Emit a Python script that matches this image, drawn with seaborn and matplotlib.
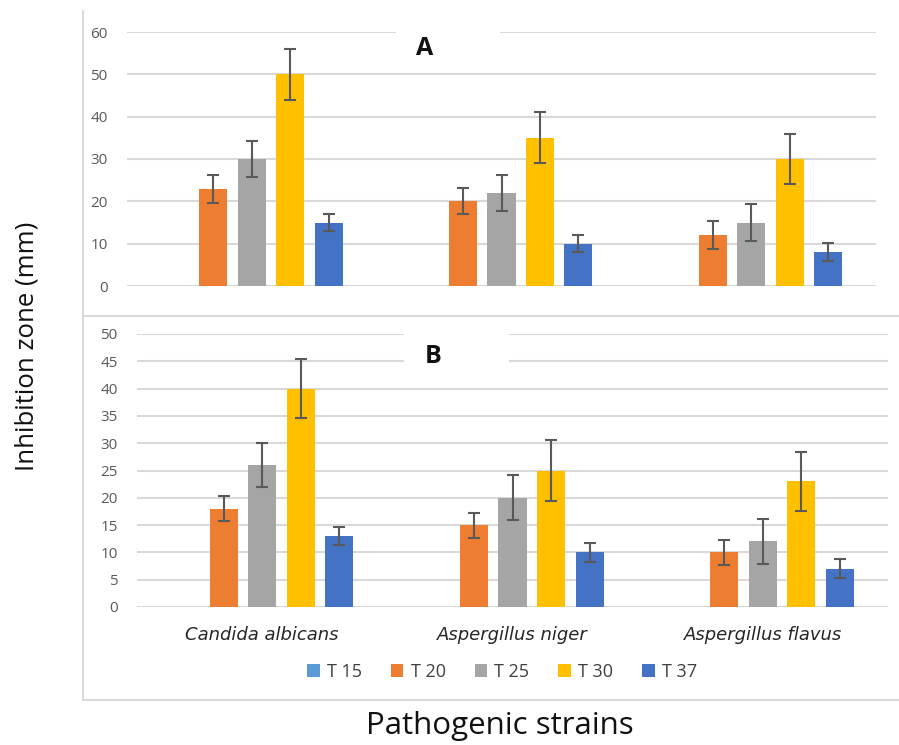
import matplotlib
matplotlib.use("Agg")
import matplotlib.pyplot as plt
from matplotlib.lines import Line2D
from matplotlib.patches import Rectangle
import seaborn as sns
import pandas as pd

# ---------------- data ----------------
strains = ["Candida albicans", "Aspergillus niger", "Aspergillus flavus"]
temps = ["T 15", "T 20", "T 25", "T 30", "T 37"]

# Panel A values (mm) per temperature, ordered as strains
A_T15 = [0, 0, 0]
A_T20 = [23, 20, 12]
A_T25 = [30, 22, 15]
A_T30 = [50, 35, 30]
A_T37 = [15, 10, 8]
# Panel A error bars (+/-)
A_E15 = [0, 0, 0]
A_E20 = [3.3, 3.1, 3.3]
A_E25 = [4.2, 4.3, 4.3]
A_E30 = [6.0, 6.0, 6.0]
A_E37 = [2.1, 2.0, 2.2]

# Panel B values
B_T15 = [0, 0, 0]
B_T20 = [18, 15, 10]
B_T25 = [26, 20, 12]
B_T30 = [40, 25, 23]
B_T37 = [13, 10, 7]
# Panel B error bars
B_E15 = [0, 0, 0]
B_E20 = [2.3, 2.3, 2.3]
B_E25 = [4.1, 4.1, 4.2]
B_E30 = [5.4, 5.5, 5.4]
B_E37 = [1.7, 1.7, 1.7]

A_ticks = [0, 10, 20, 30, 40, 50, 60]
B_ticks = [0, 5, 10, 15, 20, 25, 30, 35, 40, 45, 50]

palette = {"T 15": "#5B9BD5", "T 20": "#ED7D31", "T 25": "#A5A5A5",
           "T 30": "#FFC000", "T 37": "#4472C4"}


def long_df(vals):
    rows = []
    for t, v in zip(temps, vals):
        for s, x in zip(strains, v):
            rows.append({"strain": s, "temp": t, "value": x})
    return pd.DataFrame(rows)


dfA = long_df([A_T15, A_T20, A_T25, A_T30, A_T37])
dfB = long_df([B_T15, B_T20, B_T25, B_T30, B_T37])
errA = [A_E15, A_E20, A_E25, A_E30, A_E37]
errB = [B_E15, B_E20, B_E25, B_E30, B_E37]

# ---------------- style ----------------
sns.set_theme(style="white")
plt.rcParams["font.family"] = ["Open Sans", "DejaVu Sans"]

W, H = 899, 745
fig = plt.figure(figsize=(W / 100, H / 100), dpi=100)


def fx(px):
    return px / W


def fy(py):
    return 1 - py / H


axA = fig.add_axes([fx(127), fy(286), fx(876) - fx(127), fy(32) - fy(286)])
axB = fig.add_axes([fx(137), fy(607), fx(888) - fx(137), fy(334) - fy(607)])

grid_c = "#D9D9D9"
tick_c = "#595959"
err_c = "#595959"


def draw(ax, df, errs, ticks, ymax, legend):
    sns.barplot(data=df, x="strain", y="value", hue="temp", order=strains,
                hue_order=temps, palette=palette, width=0.77, gap=0.27,
                errorbar=None, ax=ax, legend=legend, zorder=3,
                saturation=1, linewidth=0)
    for cont, e in zip(ax.containers, errs):
        for bar, ev in zip(cont.patches, e):
            if ev <= 0:
                continue
            xc = bar.get_x() + bar.get_width() / 2
            ax.errorbar(xc, bar.get_height(), yerr=ev, fmt="none",
                        ecolor=err_c, elinewidth=1.5, capsize=4,
                        capthick=1.5, zorder=4)
    ax.set_ylim(0, ymax)
    ax.set_xlim(-0.5, 2.5)
    ax.set_yticks(ticks)
    ax.grid(axis="y", color=grid_c, linewidth=1.5, zorder=0)
    ax.set_axisbelow(True)
    for s in ax.spines.values():
        s.set_visible(False)
    ax.tick_params(axis="y", length=0, pad=14, labelsize=11, labelcolor=tick_c)
    ax.tick_params(axis="x", length=0)
    ax.set_ylabel("")
    ax.set_xlabel("")


draw(axA, dfA, errA, A_ticks, 60, False)
draw(axB, dfB, errB, B_ticks, 50, True)

axA.set_xticklabels([])
axB.set_xticklabels(strains, fontstyle="italic", fontsize=13, color="#262626",
                    family=["DejaVu Sans"])
axB.tick_params(axis="x", pad=14)

# white boxes breaking the gridlines behind the panel letters
axA.add_patch(Rectangle((0.359, 0.87), 0.139, 0.2, transform=axA.transAxes,
                        facecolor="white", edgecolor="none", zorder=1,
                        clip_on=False))
axB.add_patch(Rectangle((0.356, 0.85), 0.139, 0.2, transform=axB.transAxes,
                        facecolor="white", edgecolor="none", zorder=1,
                        clip_on=False))
axA.text(0.398, 0.937, "A", transform=axA.transAxes, ha="center", va="center",
         fontsize=18, fontweight="bold", color="#111111", zorder=5)
axB.text(0.395, 0.919, "B", transform=axB.transAxes, ha="center", va="center",
         fontsize=18, fontweight="bold", color="#111111", zorder=5)

# legend
handles, labels = axB.get_legend_handles_labels()
if axB.get_legend() is not None:
    axB.get_legend().remove()
fig.legend(handles, labels, ncol=5, loc="center",
           bbox_to_anchor=(fx(502), fy(672)), frameon=False,
           handlelength=0.7, handleheight=0.7, handletextpad=0.4,
           columnspacing=1.6, prop={"size": 13}, labelcolor="#404040")

# panel frames
fcol = "#D9D9D9"
fig.add_artist(Line2D([fx(83), fx(83)], [fy(11), fy(700)], color=fcol, lw=1.5))
fig.add_artist(Line2D([fx(83), 1], [fy(316), fy(316)], color=fcol, lw=1.5))
fig.add_artist(Line2D([fx(83), 1], [fy(700), fy(700)], color=fcol, lw=1.5))

# axis titles
fig.text(fx(27), fy(346), "Inhibition zone (mm)", rotation=90, ha="center",
         va="center", fontsize=18.5, color="#111111")
fig.text(fx(500), fy(734), "Pathogenic strains", ha="center", va="baseline",
         fontsize=22.5, color="#111111")

fig.savefig("out.png", dpi=100)
